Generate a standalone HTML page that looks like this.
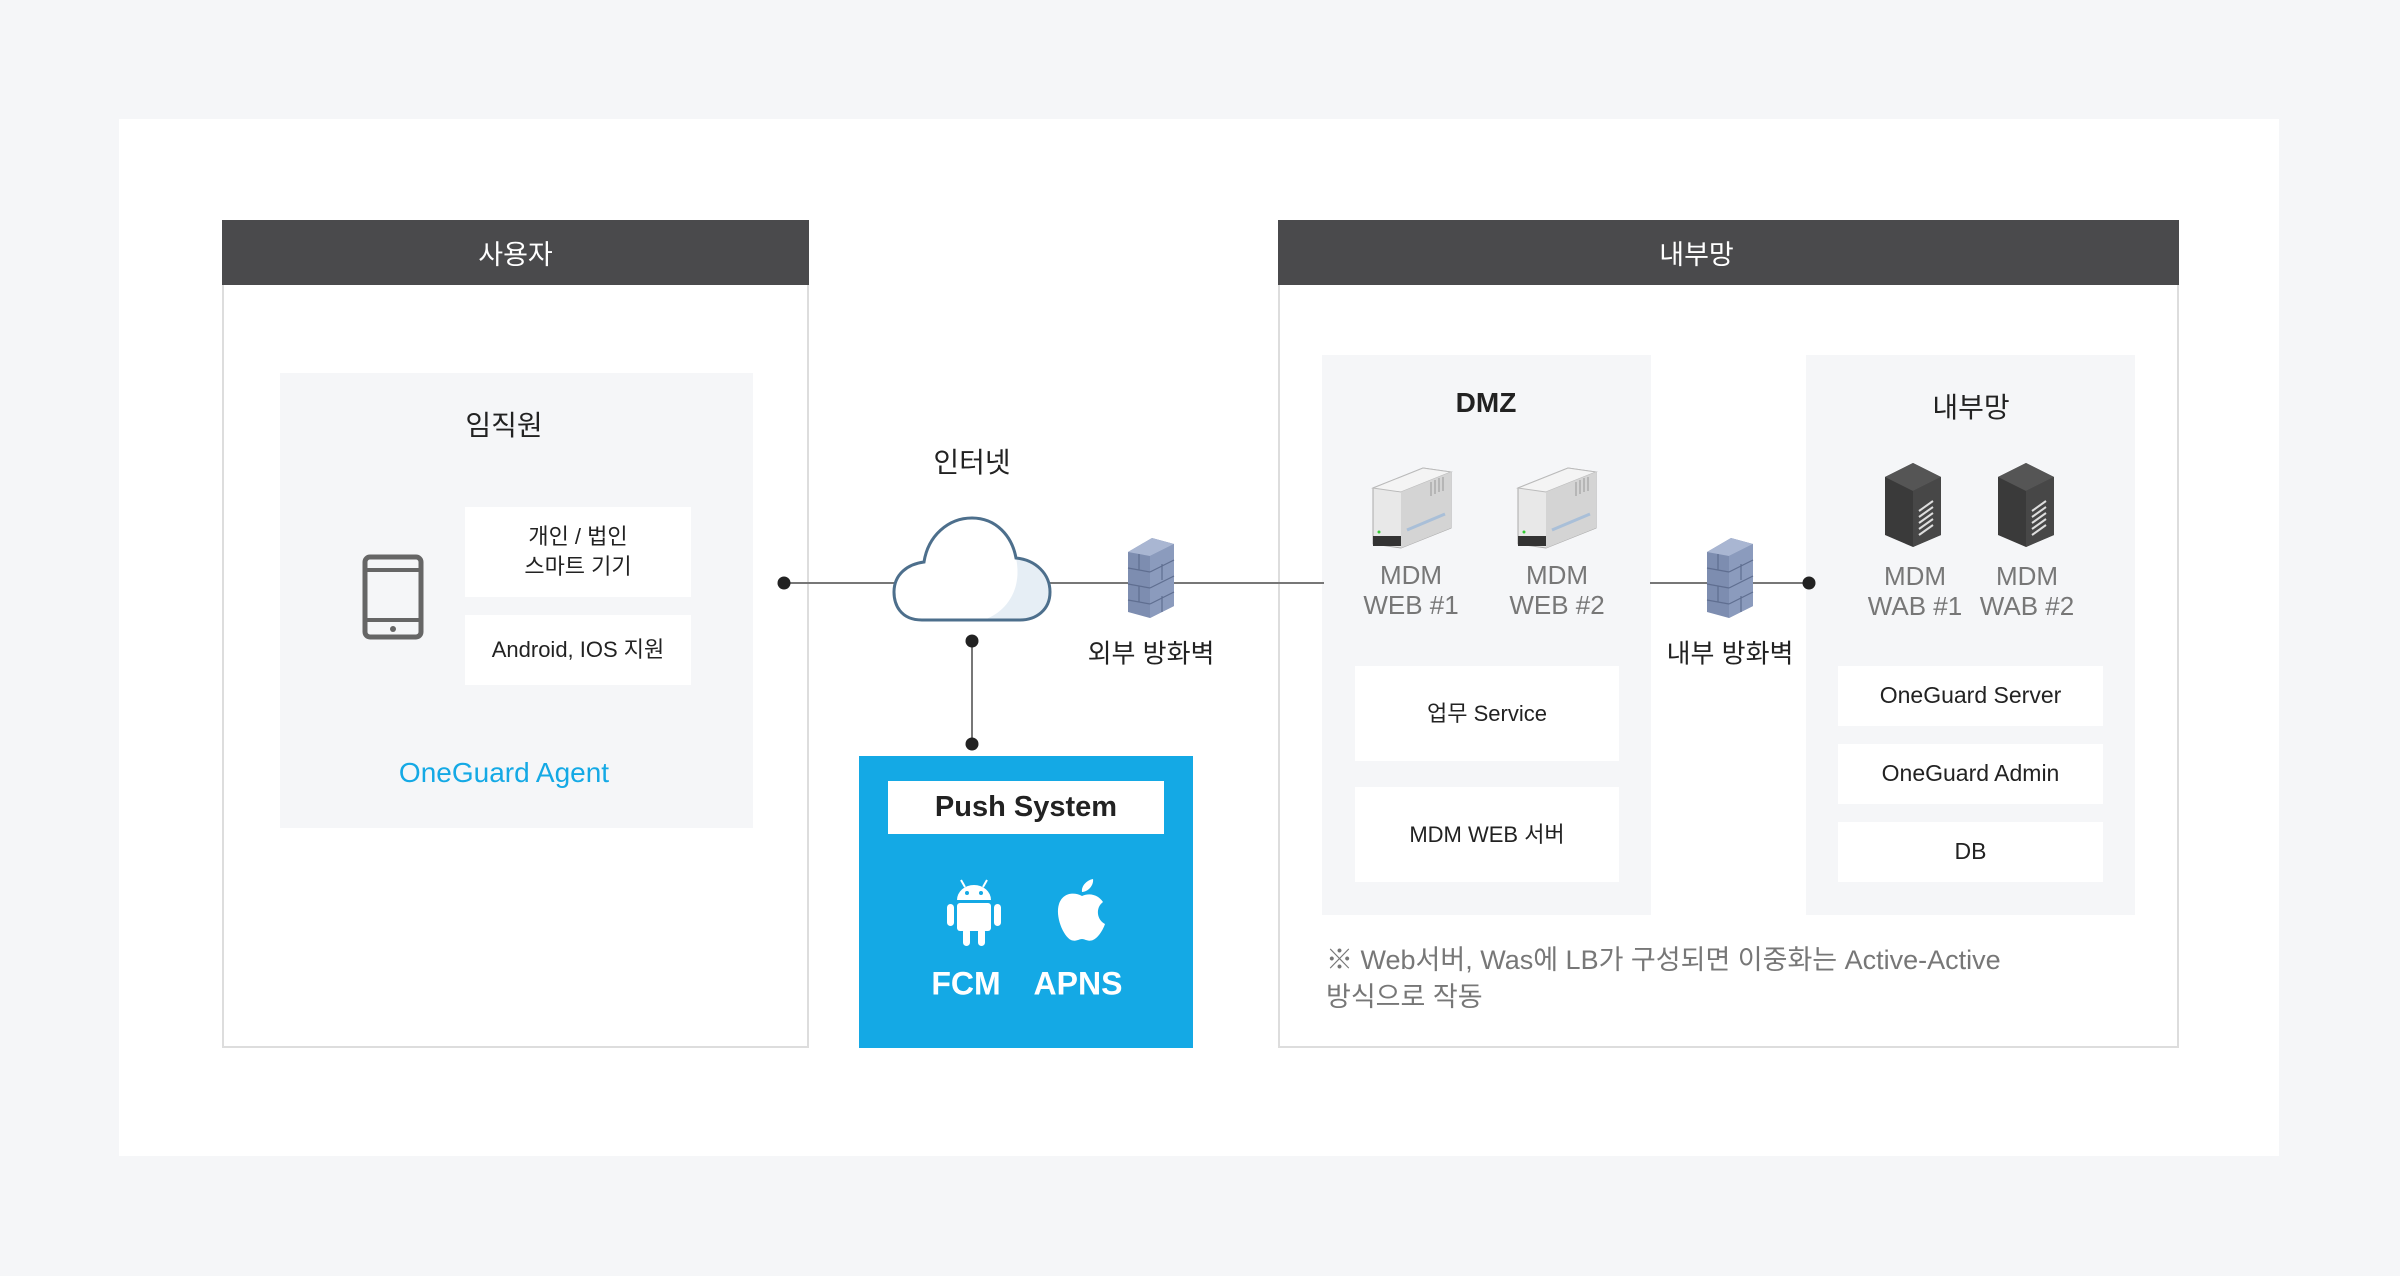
<!DOCTYPE html>
<html><head><meta charset="utf-8"><style>
*{margin:0;padding:0;box-sizing:border-box}
body{width:2400px;height:1276px;background:#f5f6f8;position:relative;overflow:hidden;font-family:"Liberation Sans","Noto Sans CJK KR",sans-serif;color:#222}
.a{position:absolute}
.c{position:absolute;transform:translate(-50%,-50%);white-space:nowrap;text-align:center}
.box{position:absolute;background:#fff;display:flex;align-items:center;justify-content:center;text-align:center;font-size:22px;color:#222;line-height:1.35}
.gray{position:absolute;background:#f5f6f8}
.hdr{position:absolute;background:#4a4a4c;color:#fff;font-size:27px;display:flex;align-items:center;justify-content:center}
.lbl{color:#777;font-size:26px;line-height:30px}
.dot{position:absolute;width:13px;height:13px;border-radius:50%;background:#222;transform:translate(-50%,-50%)}
</style></head><body>
<div class="a" style="left:119px;top:119px;width:2160px;height:1037px;background:#fff"></div>

<!-- left panel -->
<div class="a" style="left:222px;top:220px;width:587px;height:828px;border:2px solid #ddd;background:#fff"></div>
<div class="hdr" style="left:222px;top:220px;width:587px;height:65px">사용자</div>
<div class="gray" style="left:280px;top:373px;width:473px;height:455px"></div>
<div class="c" style="left:504px;top:424px;font-size:28px">임직원</div>
<div class="box" style="left:465px;top:507px;width:226px;height:90px">개인 / 법인<br>스마트 기기</div>
<div class="box" style="left:465px;top:615px;width:226px;height:70px">Android, IOS 지원</div>
<svg class="a" style="left:362px;top:554px" width="62" height="86" viewBox="0 0 62 86"><rect x="3" y="3" width="56" height="80" rx="5" fill="none" stroke="#666" stroke-width="5"/><line x1="3" y1="16" x2="59" y2="16" stroke="#666" stroke-width="4"/><line x1="3" y1="66" x2="59" y2="66" stroke="#666" stroke-width="4"/><circle cx="31" cy="75" r="3" fill="#666"/></svg>
<div class="c" style="left:504px;top:773px;font-size:28px;color:#14a9e5">OneGuard Agent</div>

<!-- right panel -->
<div class="a" style="left:1278px;top:220px;width:901px;height:828px;border:2px solid #ddd;background:#fff"></div>
<div class="hdr" style="left:1278px;top:220px;width:901px;height:65px;padding-right:64px">내부망</div>
<div class="gray" style="left:1322px;top:355px;width:329px;height:560px"></div>
<div class="gray" style="left:1806px;top:355px;width:329px;height:560px"></div>

<!-- connectors -->
<div class="a" style="left:784px;top:582px;width:540px;height:2px;background:#777"></div>
<div class="dot" style="left:784px;top:583px"></div>
<div class="a" style="left:971px;top:641px;width:2px;height:103px;background:#777"></div>
<div class="dot" style="left:972px;top:641px"></div>
<div class="dot" style="left:972px;top:744px"></div>
<div class="a" style="left:1650px;top:582px;width:159px;height:2px;background:#777"></div>
<div class="dot" style="left:1809px;top:583px"></div>

<!-- cloud -->
<svg class="a" style="left:892px;top:514px" width="162" height="110" viewBox="0 0 162 110">
<path d="M30 106 C8 106 2 90 2 78 C2 60 16 50 32 48 C36 22 56 4 80 4 C104 4 120 22 124 44 C144 46 158 60 158 78 C158 96 144 106 128 106 Z" fill="#fff"/>
<path d="M124 44 C144 46 158 60 158 78 C158 96 144 106 128 106 L92 106 C118 96 130 72 124 44 Z" fill="#e6eef5"/>
<path d="M30 106 C8 106 2 90 2 78 C2 60 16 50 32 48 C36 22 56 4 80 4 C104 4 120 22 124 44 C144 46 158 60 158 78 C158 96 144 106 128 106 Z" fill="none" stroke="#4d6f8c" stroke-width="3"/>
</svg>
<div class="c" style="left:972px;top:461px;font-size:28px">인터넷</div>

<!-- firewalls -->
<svg class="a" style="left:1126px;top:534px" width="50" height="86" viewBox="0 0 50 86"><polygon points="2,18 26,4 48,10 48,72 24,84 2,78" fill="#7d8db0"/><polygon points="2,18 26,4 48,10 24,22" fill="#a9b6d2"/><polygon points="24,22 48,10 48,72 24,84" fill="#8b9bbd"/><g stroke="#5f6e90" stroke-width="1.2"><line x1="2" y1="34" x2="24" y2="38"/><line x1="2" y1="50" x2="24" y2="54"/><line x1="2" y1="66" x2="24" y2="70"/><line x1="24" y1="38" x2="48" y2="26"/><line x1="24" y1="54" x2="48" y2="42"/><line x1="24" y1="70" x2="48" y2="58"/><line x1="13" y1="20" x2="13" y2="36"/><line x1="13" y1="52" x2="13" y2="68"/><line x1="36" y1="30" x2="36" y2="46"/><line x1="36" y1="62" x2="36" y2="78"/></g></svg>
<div class="c" style="left:1151px;top:652px;font-size:26px">외부 방화벽</div>
<svg class="a" style="left:1705px;top:534px" width="50" height="86" viewBox="0 0 50 86"><polygon points="2,18 26,4 48,10 48,72 24,84 2,78" fill="#7d8db0"/><polygon points="2,18 26,4 48,10 24,22" fill="#a9b6d2"/><polygon points="24,22 48,10 48,72 24,84" fill="#8b9bbd"/><g stroke="#5f6e90" stroke-width="1.2"><line x1="2" y1="34" x2="24" y2="38"/><line x1="2" y1="50" x2="24" y2="54"/><line x1="2" y1="66" x2="24" y2="70"/><line x1="24" y1="38" x2="48" y2="26"/><line x1="24" y1="54" x2="48" y2="42"/><line x1="24" y1="70" x2="48" y2="58"/><line x1="13" y1="20" x2="13" y2="36"/><line x1="13" y1="52" x2="13" y2="68"/><line x1="36" y1="30" x2="36" y2="46"/><line x1="36" y1="62" x2="36" y2="78"/></g></svg>
<div class="c" style="left:1730px;top:652px;font-size:26px">내부 방화벽</div>

<!-- push system -->
<div class="a" style="left:859px;top:756px;width:334px;height:292px;background:#14a9e5"></div>
<div class="box" style="left:888px;top:781px;width:276px;height:53px;font-size:29px;font-weight:bold;color:#222">Push System</div>
<svg class="a" style="left:943px;top:878px" width="62" height="72" viewBox="0 0 62 72" fill="#fff"><path d="M14 22 A17 15 0 0 1 48 22 Z"/><line x1="18" y1="2" x2="22" y2="9" stroke="#fff" stroke-width="2"/><line x1="44" y1="2" x2="40" y2="9" stroke="#fff" stroke-width="2"/><rect x="14" y="25" width="34" height="28" rx="3"/><rect x="4" y="26" width="7" height="22" rx="3.5"/><rect x="51" y="26" width="7" height="22" rx="3.5"/><rect x="20" y="50" width="7" height="18" rx="3.5"/><rect x="35" y="50" width="7" height="18" rx="3.5"/><circle cx="24" cy="15" r="2" fill="#14a9e5"/><circle cx="38" cy="15" r="2" fill="#14a9e5"/></svg>
<svg class="a" style="left:1055px;top:878px" width="54" height="66" viewBox="0 0 54 66" fill="#fff"><path d="M27 18 C20 14 8 14 4 26 C0 38 8 58 16 62 C21 64 24 61 27 61 C30 61 33 64 38 62 C43 60 48 52 50 46 C42 42 40 30 48 24 C44 18 36 14 27 18 Z"/><path d="M27 14 C26 8 32 2 38 1 C39 7 33 14 27 14 Z"/></svg>
<div class="c" style="left:966px;top:984px;font-size:32px;color:#fff;font-weight:bold">FCM</div>
<div class="c" style="left:1078px;top:984px;font-size:32px;color:#fff;font-weight:bold">APNS</div>

<div class="c" style="left:1486px;top:403px;font-size:28px;font-weight:bold">DMZ</div>
<div class="c" style="left:1971px;top:406px;font-size:28px">내부망</div>

<!-- white servers -->
<svg class="a" style="left:1369px;top:466px" width="86" height="84" viewBox="0 0 86 84"><polygon points="4,22 54,2 82,6 82,62 32,82 4,78" fill="#e8e8e8" stroke="#aaa"/><polygon points="4,22 54,2 82,6 32,26" fill="#f4f4f4" stroke="#bbb"/><polygon points="32,26 82,6 82,62 32,82" fill="#d4d4d4"/><rect x="4" y="70" width="28" height="10" fill="#333"/><circle cx="10" cy="66" r="1.5" fill="#3c3"/><line x1="38" y1="64" x2="76" y2="48" stroke="#a9bfd8" stroke-width="3"/><g stroke="#999"><line x1="62" y1="16" x2="62" y2="30"/><line x1="66" y1="14" x2="66" y2="28"/><line x1="70" y1="12" x2="70" y2="26"/><line x1="74" y1="11" x2="74" y2="25"/></g></svg>
<svg class="a" style="left:1514px;top:466px" width="86" height="84" viewBox="0 0 86 84"><polygon points="4,22 54,2 82,6 82,62 32,82 4,78" fill="#e8e8e8" stroke="#aaa"/><polygon points="4,22 54,2 82,6 32,26" fill="#f4f4f4" stroke="#bbb"/><polygon points="32,26 82,6 82,62 32,82" fill="#d4d4d4"/><rect x="4" y="70" width="28" height="10" fill="#333"/><circle cx="10" cy="66" r="1.5" fill="#3c3"/><line x1="38" y1="64" x2="76" y2="48" stroke="#a9bfd8" stroke-width="3"/><g stroke="#999"><line x1="62" y1="16" x2="62" y2="30"/><line x1="66" y1="14" x2="66" y2="28"/><line x1="70" y1="12" x2="70" y2="26"/><line x1="74" y1="11" x2="74" y2="25"/></g></svg>
<div class="c lbl" style="left:1411px;top:590px">MDM<br>WEB #1</div>
<div class="c lbl" style="left:1557px;top:590px">MDM<br>WEB #2</div>

<!-- dark servers -->
<svg class="a" style="left:1883px;top:461px" width="60" height="88" viewBox="0 0 60 88"><polygon points="30,2 58,16 58,74 30,86 2,74 2,16" fill="#3a3a3a"/><polygon points="30,2 58,16 30,30 2,16" fill="#555"/><polygon points="30,30 58,16 58,74 30,86" fill="#474747"/><g stroke="#ddd" stroke-width="2"><line x1="36" y1="50" x2="50" y2="40"/><line x1="36" y1="56" x2="50" y2="46"/><line x1="36" y1="62" x2="50" y2="52"/><line x1="36" y1="68" x2="50" y2="58"/><line x1="36" y1="74" x2="50" y2="64"/></g></svg>
<svg class="a" style="left:1996px;top:461px" width="60" height="88" viewBox="0 0 60 88"><polygon points="30,2 58,16 58,74 30,86 2,74 2,16" fill="#3a3a3a"/><polygon points="30,2 58,16 30,30 2,16" fill="#555"/><polygon points="30,30 58,16 58,74 30,86" fill="#474747"/><g stroke="#ddd" stroke-width="2"><line x1="36" y1="50" x2="50" y2="40"/><line x1="36" y1="56" x2="50" y2="46"/><line x1="36" y1="62" x2="50" y2="52"/><line x1="36" y1="68" x2="50" y2="58"/><line x1="36" y1="74" x2="50" y2="64"/></g></svg>
<div class="c lbl" style="left:1915px;top:591px">MDM<br>WAB #1</div>
<div class="c lbl" style="left:2027px;top:591px">MDM<br>WAB #2</div>

<div class="box" style="left:1355px;top:666px;width:264px;height:95px">업무 Service</div>
<div class="box" style="left:1355px;top:787px;width:264px;height:95px">MDM WEB 서버</div>
<div class="box" style="left:1838px;top:666px;width:265px;height:60px;font-size:23px">OneGuard Server</div>
<div class="box" style="left:1838px;top:744px;width:265px;height:60px;font-size:23px">OneGuard Admin</div>
<div class="box" style="left:1838px;top:822px;width:265px;height:60px;font-size:23px">DB</div>

<div class="a" style="left:1326px;top:942px;font-size:27px;color:#777;line-height:37px">※ Web서버, Was에 LB가 구성되면 이중화는 Active-Active<br>방식으로 작동</div>
</body></html>
